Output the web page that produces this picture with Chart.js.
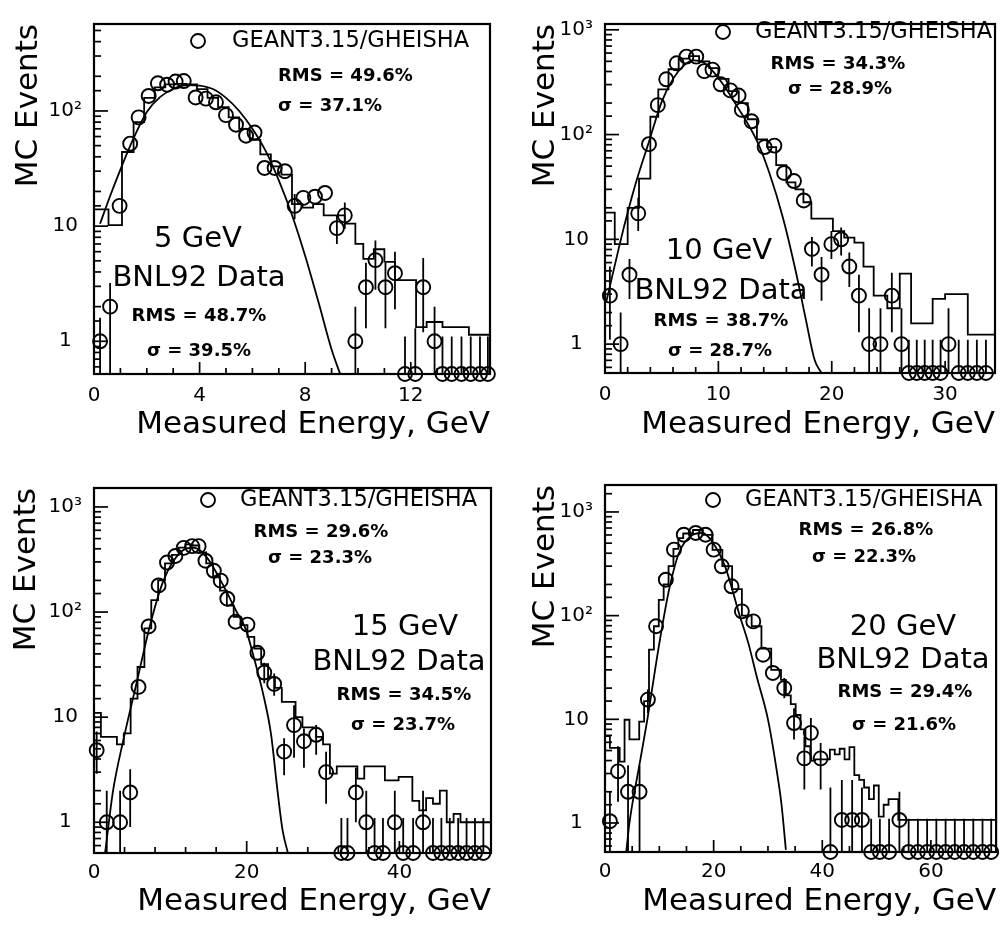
<!DOCTYPE html>
<html>
<head>
<meta charset="utf-8">
<script src="https://cdn.jsdelivr.net/npm/chart.js@4.4.1/dist/chart.umd.min.js"></script>
<style>
html,body{margin:0;padding:0;background:#fff;}
body{width:1005px;height:925px;position:relative;overflow:hidden;}
canvas{position:absolute;}
</style>
</head>
<body>
<canvas id="c1" width="500" height="460" style="left:0;top:0"></canvas>
<canvas id="c2" width="490" height="460" style="left:515px;top:0"></canvas>
<canvas id="c3" width="500" height="465" style="left:0;top:460px"></canvas>
<canvas id="c4" width="490" height="465" style="left:515px;top:460px"></canvas>
<script>
// ---------- shared labels ----------
const yTickValues = [1, 10, 100, 1000];
const yTickText = ['1', '10', '10²', '10³'];
const xTitle = 'Measured Energy, GeV';
const yTitle = 'MC Events';
const legendText = 'GEANT3.15/GHEISHA';
const dataLabel = 'BNL92 Data';

// ---------- Panel 1 : 5 GeV ----------
const p1_text = ['5 GeV', 'RMS = 49.6%', 'σ = 37.1%', 'RMS = 48.7%', 'σ = 39.5%'];
const p1_xLabels = [0, 4, 8, 12];
const p1_dataX = [0.23,0.61,0.97,1.37,1.69,2.07,2.42,2.77,3.09,3.40,3.85,4.24,4.62,5.00,5.38,5.76,6.08,6.46,6.84,7.23,7.60,7.93,8.37,8.75,9.20,9.50,9.90,10.30,10.66,11.04,11.40,11.78,12.17,12.47,12.90,13.20,13.55,13.92,14.27,14.62,14.92];
const p1_dataY = [1,2.0,15,52,88,135,174,169,180,182,131,128,119,92,76,61,65,32,32,30,15,17.6,18,19.4,9.6,12.4,1,2.95,5.07,2.95,3.9,0,0,2.95,1,0,0,0,0,0,0];
const p1_errX  = [0.23,0.61,7.60,9.20,9.50,9.90,10.30,10.66,11.04,11.40,11.78,12.17,12.47,12.90,13.20,13.55,13.92,14.27,14.62,14.92];
const p1_errLo = [0,0,11.5,7,9.5,0,1.3,2.8,1.3,1.9,0,0,1.2,0,0,0,0,0,0,0];
const p1_errHi = [1.6,3.2,19,12.5,16,2.0,4.8,7.5,4.8,6.0,1.1,1.3,5.3,2.0,1.1,1.1,1.1,1.1,1.1,1.1];
const p1_histEdges = [0,0.55,1.06,1.5,1.9,2.3,2.7,3.1,3.5,3.9,4.3,4.7,5.1,5.5,5.9,6.3,6.7,7.1,7.5,7.9,8.3,8.7,9.1,9.5,9.9,10.2,10.6,11.0,11.4,12.2,12.6,13.2,14.2,15];
const p1_histVals  = [14,10.2,44,80,130,160,170,172,170,155,130,108,88,70,56,42,33,28,15.5,14.5,15.5,12.4,12.4,10.5,7,5.2,6.3,4.9,3.4,1.33,1.47,1.33,1.14];
const p1_fitX = [0.23,0.6,1.0,1.5,2.0,2.5,3.0,3.5,4.0,4.5,5.0,5.5,6.0,6.5,7.0,7.5,8.0,8.5,9.0,9.35];
const p1_fitY = [10.5,18,31,58,98,132,155,168,166,155,130,100,70,45,25,12.5,5.5,2.2,0.85,0.5];

// ---------- Panel 2 : 10 GeV ----------
const p2_text = ['10 GeV', 'RMS = 34.3%', 'σ = 28.9%', 'RMS = 38.7%', 'σ = 28.7%'];
const p2_xLabels = [0, 10, 20, 30];
const p2_dataX = [0.43,1.38,2.16,2.93,3.88,4.66,5.40,6.32,7.18,8.05,8.76,9.48,10.20,11.06,11.78,12.07,12.93,14.08,14.94,15.80,16.67,17.53,18.25,19.10,19.97,20.83,21.55,22.40,23.30,24.30,25.30,26.15,26.80,27.50,28.20,28.90,29.60,30.30,31.20,32.00,32.80,33.60];
const p2_dataY = [2.9,1,4.6,17.7,81,191,337,479,554,554,403,417,302,264,236,172,134,76,78.5,43,36,23.5,8.1,4.6,9,10,5.5,2.9,1,1,2.9,1,0,0,0,0,0,1,0,0,0,0];
const p2_errX  = [0.43,1.38,2.16,2.93,18.25,19.10,19.97,20.83,21.55,22.40,23.30,24.30,25.30,26.15,26.80,27.50,28.20,28.90,29.60,30.30,31.20,32.00,32.80,33.60];
const p2_errLo = [1.1,0,2.7,12,5.5,2.6,6.5,7,3.5,1.3,0,0,1.3,0,0,0,0,0,0,0,0,0,0,0];
const p2_errHi = [5.5,2.0,6.5,25,10.5,6.8,12,13,7.5,4.6,2.2,2.2,4.8,2.2,1.1,1.1,1.1,1.1,1.1,2.2,1.1,1.1,1.1,1.1];
const p2_histEdges = [0,0.86,2.0,3.0,4.0,4.7,5.6,6.5,7.4,8.3,9.2,10.0,10.9,11.8,12.6,13.4,14.3,15.1,16.0,16.8,17.5,18.2,19.1,20.1,21.1,22.0,22.8,23.7,24.9,26.0,27.0,28.9,30.0,32.0,34.4];
const p2_histVals  = [18,9,20,38,148,270,420,530,560,500,430,340,260,200,140,90,76,51,35,30,22.6,15.8,15.8,12,10.4,9.3,5.5,2.9,2.2,4.7,1.58,2.7,3.0,1.23];
const p2_fitX = [0.1,1.3,2.0,2.7,3.9,5.0,6.0,7.0,7.8,8.8,10.2,11.6,13.4,14.5,15.7,16.8,17.7,18.5,19.1];
const p2_fitY = [2.5,9,18,34,87,205,340,460,510,480,325,190,87,43,16,5.1,1.75,0.7,0.53];

// ---------- Panel 3 : 15 GeV ----------
const p3_text = ['15 GeV', 'RMS = 29.6%', 'σ = 23.3%', 'RMS = 34.5%', 'σ = 23.7%'];
const p3_xLabels = [0, 20, 40];
const p3_dataX = [0.35,1.67,3.42,4.74,5.83,7.15,8.46,9.56,10.66,11.75,12.85,13.70,14.60,15.70,16.60,17.46,18.55,20.10,21.40,22.30,23.60,24.90,26.20,27.50,29.10,30.40,32.40,33.20,34.30,35.66,36.75,37.85,39.40,40.50,41.80,43.10,44.40,45.50,46.60,47.70,48.80,49.90,51.00];
const p3_dataY = [4.85,1,1,1.92,19.4,73,179,296,342,408,424,424,308,247,199,134,81,76,41,26.6,20.7,4.7,8.4,5.9,6.8,3.0,0,0,1.92,1,0,0,1,0,0,1,0,0,0,0,0,0,0];
const p3_errX  = [0.35,1.67,3.42,4.74,22.30,23.60,24.90,26.20,27.50,29.10,30.40,32.40,33.20,34.30,35.66,36.75,37.85,39.40,40.50,41.80,43.10,44.40,45.50,46.60,47.70,48.80,49.90,51.00];
const p3_errLo = [2.9,0,0,0.9,21,16,2.8,4.1,3.3,4.4,1.5,0,0,1.0,0,0,0,0,0,0,0,0,0,0,0,0,0,0];
const p3_errHi = [7.3,2.0,2.0,3.2,33,26,6.3,13,7.8,8.4,4.7,1.1,1.1,3.3,2.0,1.1,1.1,2.0,1.1,1.1,2.0,1.1,1.1,1.1,1.1,1.1,1.1,1.1];
const p3_histEdges = [0,0.9,3.0,3.9,4.8,5.7,6.6,7.5,8.4,9.3,10.2,11.1,12.0,12.9,13.8,14.7,15.6,16.5,17.4,18.3,19.2,20.1,21.0,21.9,22.8,23.7,24.6,26.4,27.3,29.1,30.0,30.9,31.8,34.5,35.4,38.1,39.9,41.7,42.6,43.5,44.4,45.3,46.2,47.1,48.0,52];
const p3_histVals  = [11,6.5,5.5,7,15,30,70,130,200,290,350,410,440,430,370,290,220,160,115,90,75,58,45,32,24,19,14,10,8,6.5,5.5,2.9,3.4,2.6,3.4,2.5,2.7,1.6,1.3,1.7,1.5,2.0,1.0,1.2,1.0];
const p3_fitX = [1.45,2.5,3.9,5.6,7.4,9.1,11.3,13.1,14.8,16.6,18.8,19.9,21.0,22.1,23.2,24.0,24.7,25.4];
const p3_fitY = [0.51,2.0,6.3,21.5,78,199,369,409,330,199,97,68,35.5,17.3,6.8,2.1,0.84,0.51];

// ---------- Panel 4 : 20 GeV ----------
const p4_text = ['20 GeV', 'RMS = 26.8%', 'σ = 22.3%', 'RMS = 29.4%', 'σ = 21.6%'];
const p4_xLabels = [0, 20, 40, 60];
const p4_dataX = [0.9,2.4,4.24,6.36,7.9,9.4,11.2,12.7,14.5,16.7,18.5,20.0,21.5,23.3,25.2,27.3,29.1,30.9,33.0,34.8,36.7,37.9,39.7,41.5,43.6,45.5,47.3,49.0,50.6,52.3,54.2,55.9,57.6,59.3,61.0,62.7,64.4,66.1,67.8,69.5,71.1];
const p4_dataY = [1.04,3.15,2.0,2.0,15.5,79,222,433,603,627,603,433,299,192,110,88,42,28,20,9.2,4.2,7.4,4.2,0,1.07,1.07,1.07,0,0,0,1.07,0,0,0,0,0,0,0,0,0,0];
const p4_errX  = [0.9,2.4,4.24,6.36,7.9,33.0,34.8,36.7,37.9,39.7,41.5,43.6,45.5,47.3,49.0,50.6,52.3,54.2,55.9,57.6,59.3,61.0,62.7,64.4,66.1,67.8,69.5,71.1];
const p4_errLo = [0,1.6,0,0,11.5,16,6.4,2.1,4.2,2.1,0,0,0,0,0,0,0,0,0,0,0,0,0,0,0,0,0,0];
const p4_errHi = [2.0,5.5,3.6,3.6,19.4,25,12.8,6.8,10.3,5.9,2.2,2.6,2.6,2.2,1.1,1.1,1.1,2.0,1.1,1.1,1.1,1.1,1.1,1.1,1.1,1.1,1.1,1.1];
const p4_histEdges = [0,0.9,2.7,3.6,4.5,6.3,7.2,8.1,9.0,9.9,10.8,11.7,12.6,13.5,14.4,16.2,18.0,19.8,21.6,23.4,25.2,27.0,28.8,30.6,32.4,33.3,34.2,35.1,36.0,36.9,37.8,38.7,41.4,42.3,43.2,44.1,45.0,45.9,46.8,47.7,48.6,49.5,50.4,51.3,52.2,54.0,72];
const p4_histVals  = [6.9,5.3,3.9,9.9,6.4,9.5,15,47,79,142,200,300,440,560,620,670,600,430,300,180,100,79,48,30,24,17,14,11,8,5.5,4.0,4.1,5.1,4.6,5.2,4.1,5.4,2.9,2.6,2.2,1.7,2.3,1.15,1.5,1.7,1.07];
const p4_fitX = [3.9,4.5,6.4,7.8,10.0,11.8,13.6,16.1,17.9,19.7,22.1,24.8,26.4,28.0,30.0,31.5,32.5,33.3];
const p4_fitY = [0.52,1.0,3.8,10,54,178,400,600,627,520,299,100,54,25,10,3.5,1.5,0.55];

// ---------- rendering ----------
const FONT = '"DejaVu Sans", sans-serif';
const F_LEG = '22.5px ' + FONT;
const F_RMS = 'bold 18px ' + FONT;
const F_BIG = '29px ' + FONT;
Chart.defaults.color = '#000';
Chart.defaults.font.family = FONT;

function isDecade(v) { const l = Math.log10(v); return Math.abs(l - Math.round(l)) < 1e-6; }
function yLabel(v) {
  for (let i = 0; i < yTickValues.length; i++) {
    if (Math.abs(v - yTickValues[i]) < 1e-6 * yTickValues[i]) return yTickText[i];
  }
  return '';
}

const decor = {
  id: 'decor',
  afterDraw(chart) {
    const o = chart.options.plugins.decor;
    const ctx = chart.ctx, a = chart.chartArea;
    ctx.save();
    ctx.strokeStyle = '#000';
    ctx.fillStyle = '#000';
    ctx.lineWidth = 2.2;
    ctx.strokeRect(a.left, a.top, a.right - a.left, a.bottom - a.top);
    ctx.lineWidth = 1.7;
    const ys = chart.scales.y;
    ys.ticks.forEach(t => {
      const y = ys.getPixelForValue(t.value);
      if (y < a.top + 1 || y > a.bottom - 1) return;
      const len = isDecade(t.value) ? 14 : 7;
      ctx.beginPath(); ctx.moveTo(a.left, y); ctx.lineTo(a.left + len, y); ctx.stroke();
    });
    const xs = chart.scales.x;
    xs.ticks.forEach(t => {
      const x = xs.getPixelForValue(t.value);
      if (x < a.left + 1 || x > a.right - 1) return;
      const major = o.xMajor.some(m => Math.abs(m - t.value) < 1e-6);
      const len = major ? 12 : 6;
      ctx.beginPath(); ctx.moveTo(x, a.bottom); ctx.lineTo(x, a.bottom - len); ctx.stroke();
    });
    // legend marker
    ctx.lineWidth = 1.9;
    ctx.beginPath(); ctx.arc(a.left + o.marker[0], a.top + o.marker[1], 7, 0, Math.PI * 2); ctx.stroke();
    // annotations
    ctx.textBaseline = 'middle';
    o.notes.forEach(n => {
      ctx.font = n.font; ctx.textAlign = n.align;
      ctx.fillText(n.text, a.left + n.dx, a.top + n.dy);
    });
    ctx.restore();
  }
};

function makePanel(p) {
  const yMin = p.yMin;
  const pts = p.dataX.map((x, i) => ({ x, y: p.dataY[i] > 0 ? p.dataY[i] : yMin }));
  const err = [];
  p.errX.forEach((x, i) => {
    err.push({ x, y: p.errLo[i] > 0 ? p.errLo[i] : yMin });
    err.push({ x, y: p.errHi[i] });
    err.push({ x, y: null });
  });
  const hist = p.histVals.map((v, i) => ({ x: p.histEdges[i], y: v }));
  hist.push({ x: p.histEdges[p.histEdges.length - 1], y: p.histVals[p.histVals.length - 1] });
  const fit = p.fitX.map((x, i) => ({ x, y: p.fitY[i] }));
  const t = p.text;
  new Chart(document.getElementById(p.id), {
    type: 'scatter',
    data: {
      datasets: [
        { type: 'scatter', label: 'BNL92 Data', data: pts, pointStyle: 'circle', pointRadius: 7,
          borderColor: '#000', backgroundColor: 'rgba(0,0,0,0)', borderWidth: 1.9, clip: false },
        { type: 'line', label: 'errors', data: err, borderColor: '#000', borderWidth: 1.8,
          pointRadius: 0, spanGaps: false, fill: false, clip: false },
        { type: 'line', label: 'GEANT3.15/GHEISHA', data: hist, stepped: 'before', borderColor: '#000',
          borderWidth: 1.8, pointRadius: 0, fill: false },
        { type: 'line', label: 'fit', data: fit, borderColor: '#000', borderWidth: 1.8, pointRadius: 0,
          cubicInterpolationMode: 'monotone', fill: false }
      ]
    },
    options: {
      responsive: false, animation: false, devicePixelRatio: 1, events: [],
      layout: { padding: p.pad },
      plugins: {
        legend: { display: false }, tooltip: { enabled: false },
        decor: {
          xMajor: p.xLabels, marker: p.marker,
          notes: [
            { text: legendText, dx: p.leg[0], dy: p.leg[1], align: 'left', font: F_LEG },
            { text: t[1], dx: p.rms1[0], dy: p.rms1[1], align: p.rms1[2], font: F_RMS },
            { text: t[2], dx: p.sig1[0], dy: p.sig1[1], align: p.sig1[2], font: F_RMS },
            { text: t[0], dx: p.beam[0], dy: p.beam[1], align: 'center', font: F_BIG },
            { text: dataLabel, dx: p.bnl[0], dy: p.bnl[1], align: 'center', font: F_BIG },
            { text: t[3], dx: p.rms2[0], dy: p.rms2[1], align: 'center', font: F_RMS },
            { text: t[4], dx: p.sig2[0], dy: p.sig2[1], align: 'center', font: F_RMS }
          ]
        }
      },
      scales: {
        x: {
          type: 'linear', min: 0, max: p.xMax,
          afterFit: s => { s.height = p.xH; },
          grid: { display: false, drawTicks: false }, border: { display: false },
          ticks: { stepSize: p.xStep, autoSkip: false, maxRotation: 0, padding: p.xTickPad,
                   font: { size: 20 }, callback: v => p.xLabels.some(m => Math.abs(m - v) < 1e-6) ? String(v) : '' },
          title: { display: true, text: xTitle, align: 'end', font: { size: 31 }, padding: { top: 0, bottom: p.xTitlePad } }
        },
        y: {
          type: 'logarithmic', min: p.yMin, max: p.yMax,
          afterFit: s => { s.width = p.yW; },
          grid: { display: false, drawTicks: false }, border: { display: false },
          ticks: { autoSkip: false, padding: 12, crossAlign: 'center', font: { size: 20 }, callback: v => yLabel(v) },
          title: { display: true, text: yTitle, align: 'end', font: { size: 31 }, padding: { top: p.yTitlePad, bottom: 0 } }
        }
      }
    },
    plugins: [decor]
  });
}

makePanel({ id: 'c1', text: p1_text, xLabels: p1_xLabels, dataX: p1_dataX, dataY: p1_dataY,
  errX: p1_errX, errLo: p1_errLo, errHi: p1_errHi, histEdges: p1_histEdges, histVals: p1_histVals,
  fitX: p1_fitX, fitY: p1_fitY, xMax: 15, xStep: 1, yMin: 0.52, yMax: 569,
  pad: { left: 0, top: 8, right: 10, bottom: 0 }, yW: 94, xH: 86, yTitlePad: 10, xTitlePad: 16, xTickPad: 10,
  marker: [104, 17], leg: [138, 17], rms1: [184, 52, 'left'], sig1: [184, 82, 'left'],
  beam: [104, 215], bnl: [105, 254], rms2: [105, 292], sig2: [105, 327] });

makePanel({ id: 'c2', text: p2_text, xLabels: p2_xLabels, dataX: p2_dataX, dataY: p2_dataY,
  errX: p2_errX, errLo: p2_errLo, errHi: p2_errHi, histEdges: p2_histEdges, histVals: p2_histVals,
  fitX: p2_fitX, fitY: p2_fitY, xMax: 34.4, xStep: 2, yMin: 0.53, yMax: 1136,
  pad: { left: 0, top: 13, right: 3, bottom: 0 }, yW: 90, xH: 87, yTitlePad: 12, xTitlePad: 16, xTickPad: 10,
  marker: [118, 8], leg: [150, 8], rms1: [233, 40, 'center'], sig1: [235, 65, 'center'],
  beam: [114, 227], bnl: [116, 267], rms2: [116, 297], sig2: [115, 327] });

makePanel({ id: 'c3', text: p3_text, xLabels: p3_xLabels, dataX: p3_dataX, dataY: p3_dataY,
  errX: p3_errX, errLo: p3_errLo, errHi: p3_errHi, histEdges: p3_histEdges, histVals: p3_histVals,
  fitX: p3_fitX, fitY: p3_fitY, xMax: 52, xStep: 4, yMin: 0.51, yMax: 1515,
  pad: { left: 0, top: 28, right: 9, bottom: 0 }, yW: 94, xH: 72, yTitlePad: 8, xTitlePad: 4, xTickPad: 8,
  marker: [114, 12], leg: [146, 12], rms1: [227, 44, 'center'], sig1: [226, 70, 'center'],
  beam: [311, 139], bnl: [305, 174], rms2: [310, 207], sig2: [309, 237] });

makePanel({ id: 'c4', text: p4_text, xLabels: p4_xLabels, dataX: p4_dataX, dataY: p4_dataY,
  errX: p4_errX, errLo: p4_errLo, errHi: p4_errHi, histEdges: p4_histEdges, histVals: p4_histVals,
  fitX: p4_fitX, fitY: p4_fitY, xMax: 72, xStep: 5, yMin: 0.525, yMax: 1820,
  pad: { left: 0, top: 25, right: 5, bottom: 0 }, yW: 90, xH: 73, yTitlePad: 12, xTitlePad: 4, xTickPad: 8,
  marker: [108, 15], leg: [140, 15], rms1: [261, 45, 'center'], sig1: [259, 72, 'center'],
  beam: [298, 142], bnl: [298, 175], rms2: [300, 207], sig2: [299, 240] });
</script>
</body>
</html>
